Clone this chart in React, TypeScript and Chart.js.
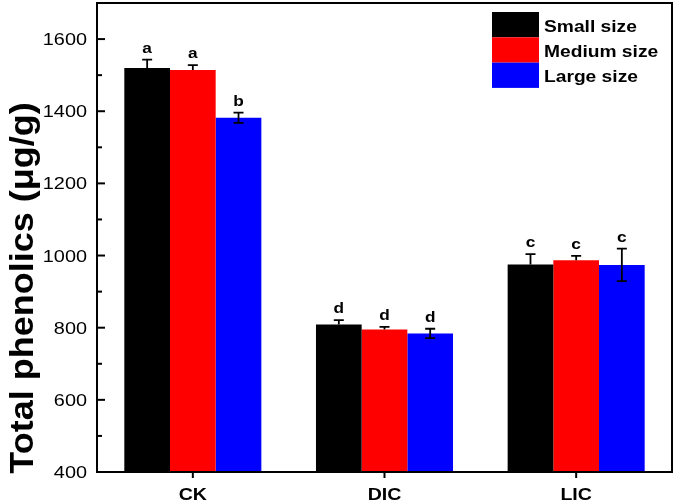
import React, { useEffect, useRef } from "react";
import { Chart, registerables } from "chart.js";

Chart.register(...registerables);

const categories = ["CK", "DIC", "LIC"];
const seriesNames = ["Small size", "Medium size", "Large size"];
const smallValues = [1520, 809, 975];
const mediumValues = [1514, 795, 987];
const largeValues = [1382, 784, 974];
const smallErrors = [23, 12, 29];
const mediumErrors = [14, 7, 12];
const largeErrors = [14, 13, 45];
const smallLetters = ["a", "d", "c"];
const mediumLetters = ["a", "d", "c"];
const largeLetters = ["b", "d", "c"];
const yMin = 400;
const yMax = 1700;
const yStep = 100;
const yLabelStep = 200;
const yLabelMax = 1600;
const yTitle = "Total phenolics (\u03bcg/g)";

const colors = ["#000000", "#ff0000", "#0000ff"];
const showLower = [false, false, true];
const FONT = '"Liberation Sans", Arial, sans-serif';
const SX = 1.17;

function drawText(
  ctx: CanvasRenderingContext2D,
  text: string,
  x: number,
  y: number,
  font: string,
  align: CanvasTextAlign,
  sx: number
) {
  ctx.save();
  ctx.translate(x, y);
  ctx.scale(sx, 1);
  ctx.font = font;
  ctx.textAlign = align;
  ctx.textBaseline = "alphabetic";
  ctx.fillStyle = "#000";
  ctx.fillText(text, 0, 0);
  ctx.restore();
}

const errors = [smallErrors, mediumErrors, largeErrors];
const letters = [smallLetters, mediumLetters, largeLetters];

const overlay = {
  id: "overlay",
  afterDatasetsDraw(chart: any) {
    const ctx: CanvasRenderingContext2D = chart.ctx;
    const y = chart.scales.y;
    chart.data.datasets.forEach((ds: any, di: number) => {
      const meta = chart.getDatasetMeta(di);
      meta.data.forEach((bar: any, i: number) => {
        const v = ds.data[i];
        const e = errors[di][i];
        const cx = bar.x;
        const yTop = y.getPixelForValue(v + e);
        const yVal = y.getPixelForValue(v);
        const yBot = y.getPixelForValue(v - e);
        ctx.save();
        ctx.strokeStyle = "#000";
        ctx.lineWidth = 1.8;
        ctx.beginPath();
        ctx.moveTo(cx, yVal);
        ctx.lineTo(cx, yTop);
        ctx.moveTo(cx - 5, yTop);
        ctx.lineTo(cx + 5, yTop);
        if (showLower[di]) {
          ctx.moveTo(cx, yVal);
          ctx.lineTo(cx, yBot);
          ctx.moveTo(cx - 5, yBot);
          ctx.lineTo(cx + 5, yBot);
        }
        ctx.stroke();
        ctx.restore();
        drawText(ctx, letters[di][i], cx, yTop - 7, "bold 15px " + FONT, "center", 1.15);
      });
    });
  },
  afterDraw(chart: any) {
    const ctx: CanvasRenderingContext2D = chart.ctx;
    const a = chart.chartArea;
    const y = chart.scales.y;
    const x = chart.scales.x;
    ctx.save();
    ctx.strokeStyle = "#000";
    ctx.lineWidth = 2;
    ctx.strokeRect(a.left, a.top, a.right - a.left, a.bottom - a.top);
    y.ticks.forEach((t: any) => {
      const v = t.value;
      const py = y.getPixelForValue(v);
      const major = v % yLabelStep === 0;
      ctx.beginPath();
      ctx.lineWidth = 2;
      ctx.moveTo(a.left, py);
      ctx.lineTo(a.left + (major ? 8 : 5), py);
      ctx.stroke();
      if (major && v <= yLabelMax) {
        drawText(ctx, String(v), 87, py + 6, "17px " + FONT, "right", SX);
      }
    });
    categories.forEach((c, i) => {
      const px = x.getPixelForValue(i);
      ctx.beginPath();
      ctx.lineWidth = 2;
      ctx.moveTo(px, a.bottom);
      ctx.lineTo(px, a.bottom + 6);
      ctx.stroke();
      drawText(ctx, c, px, 500, "bold 17px " + FONT, "center", 1.15);
    });
    ctx.restore();
    ctx.save();
    ctx.translate(33, 288);
    ctx.rotate(-Math.PI / 2);
    ctx.scale(1, 0.9);
    ctx.font = "bold 36px " + FONT;
    ctx.textAlign = "center";
    ctx.textBaseline = "alphabetic";
    ctx.fillStyle = "#000";
    ctx.fillText(yTitle, 0, 0);
    ctx.restore();
    chart.data.datasets.forEach((ds: any, di: number) => {
      const top = 12 + di * 25.3;
      ctx.save();
      ctx.fillStyle = ds.backgroundColor;
      ctx.fillRect(492, top, 47, 25.3);
      ctx.restore();
      drawText(ctx, ds.label, 544, top + 19.5, "bold 16px " + FONT, "left", 1.2);
    });
  },
};

export default function App() {
  const ref = useRef<HTMLCanvasElement>(null);
  useEffect(() => {
    if (!ref.current) return;
    const values = [smallValues, mediumValues, largeValues];
    const chart = new Chart(ref.current, {
      type: "bar",
      data: {
        labels: categories,
        datasets: seriesNames.map((n, i) => ({
          label: n,
          data: values[i],
          backgroundColor: colors[i],
          borderWidth: 0,
          barPercentage: 1,
          categoryPercentage: 0.715,
        })),
      },
      options: {
        animation: false,
        responsive: false,
        devicePixelRatio: 1,
        layout: { padding: { left: 0, top: 3, right: 5, bottom: 0 } },
        plugins: { legend: { display: false }, tooltip: { enabled: false } },
        scales: {
          x: {
            grid: { display: false, drawTicks: false },
            border: { display: false },
            ticks: { display: false },
            afterFit: (s: any) => {
              s.height = 30;
            },
          },
          y: {
            min: yMin,
            max: yMax,
            grid: { display: false, drawTicks: false },
            border: { display: false },
            ticks: { display: false, stepSize: yStep },
            afterFit: (s: any) => {
              s.width = 97;
            },
          },
        },
      },
      plugins: [overlay],
    } as any);
    return () => chart.destroy();
  }, []);
  return (
    <div style={{ position: "fixed", left: 0, top: 0, width: 677, height: 502, background: "#fff" }}>
      <canvas ref={ref} width={677} height={502} style={{ display: "block" }} />
    </div>
  );
}
